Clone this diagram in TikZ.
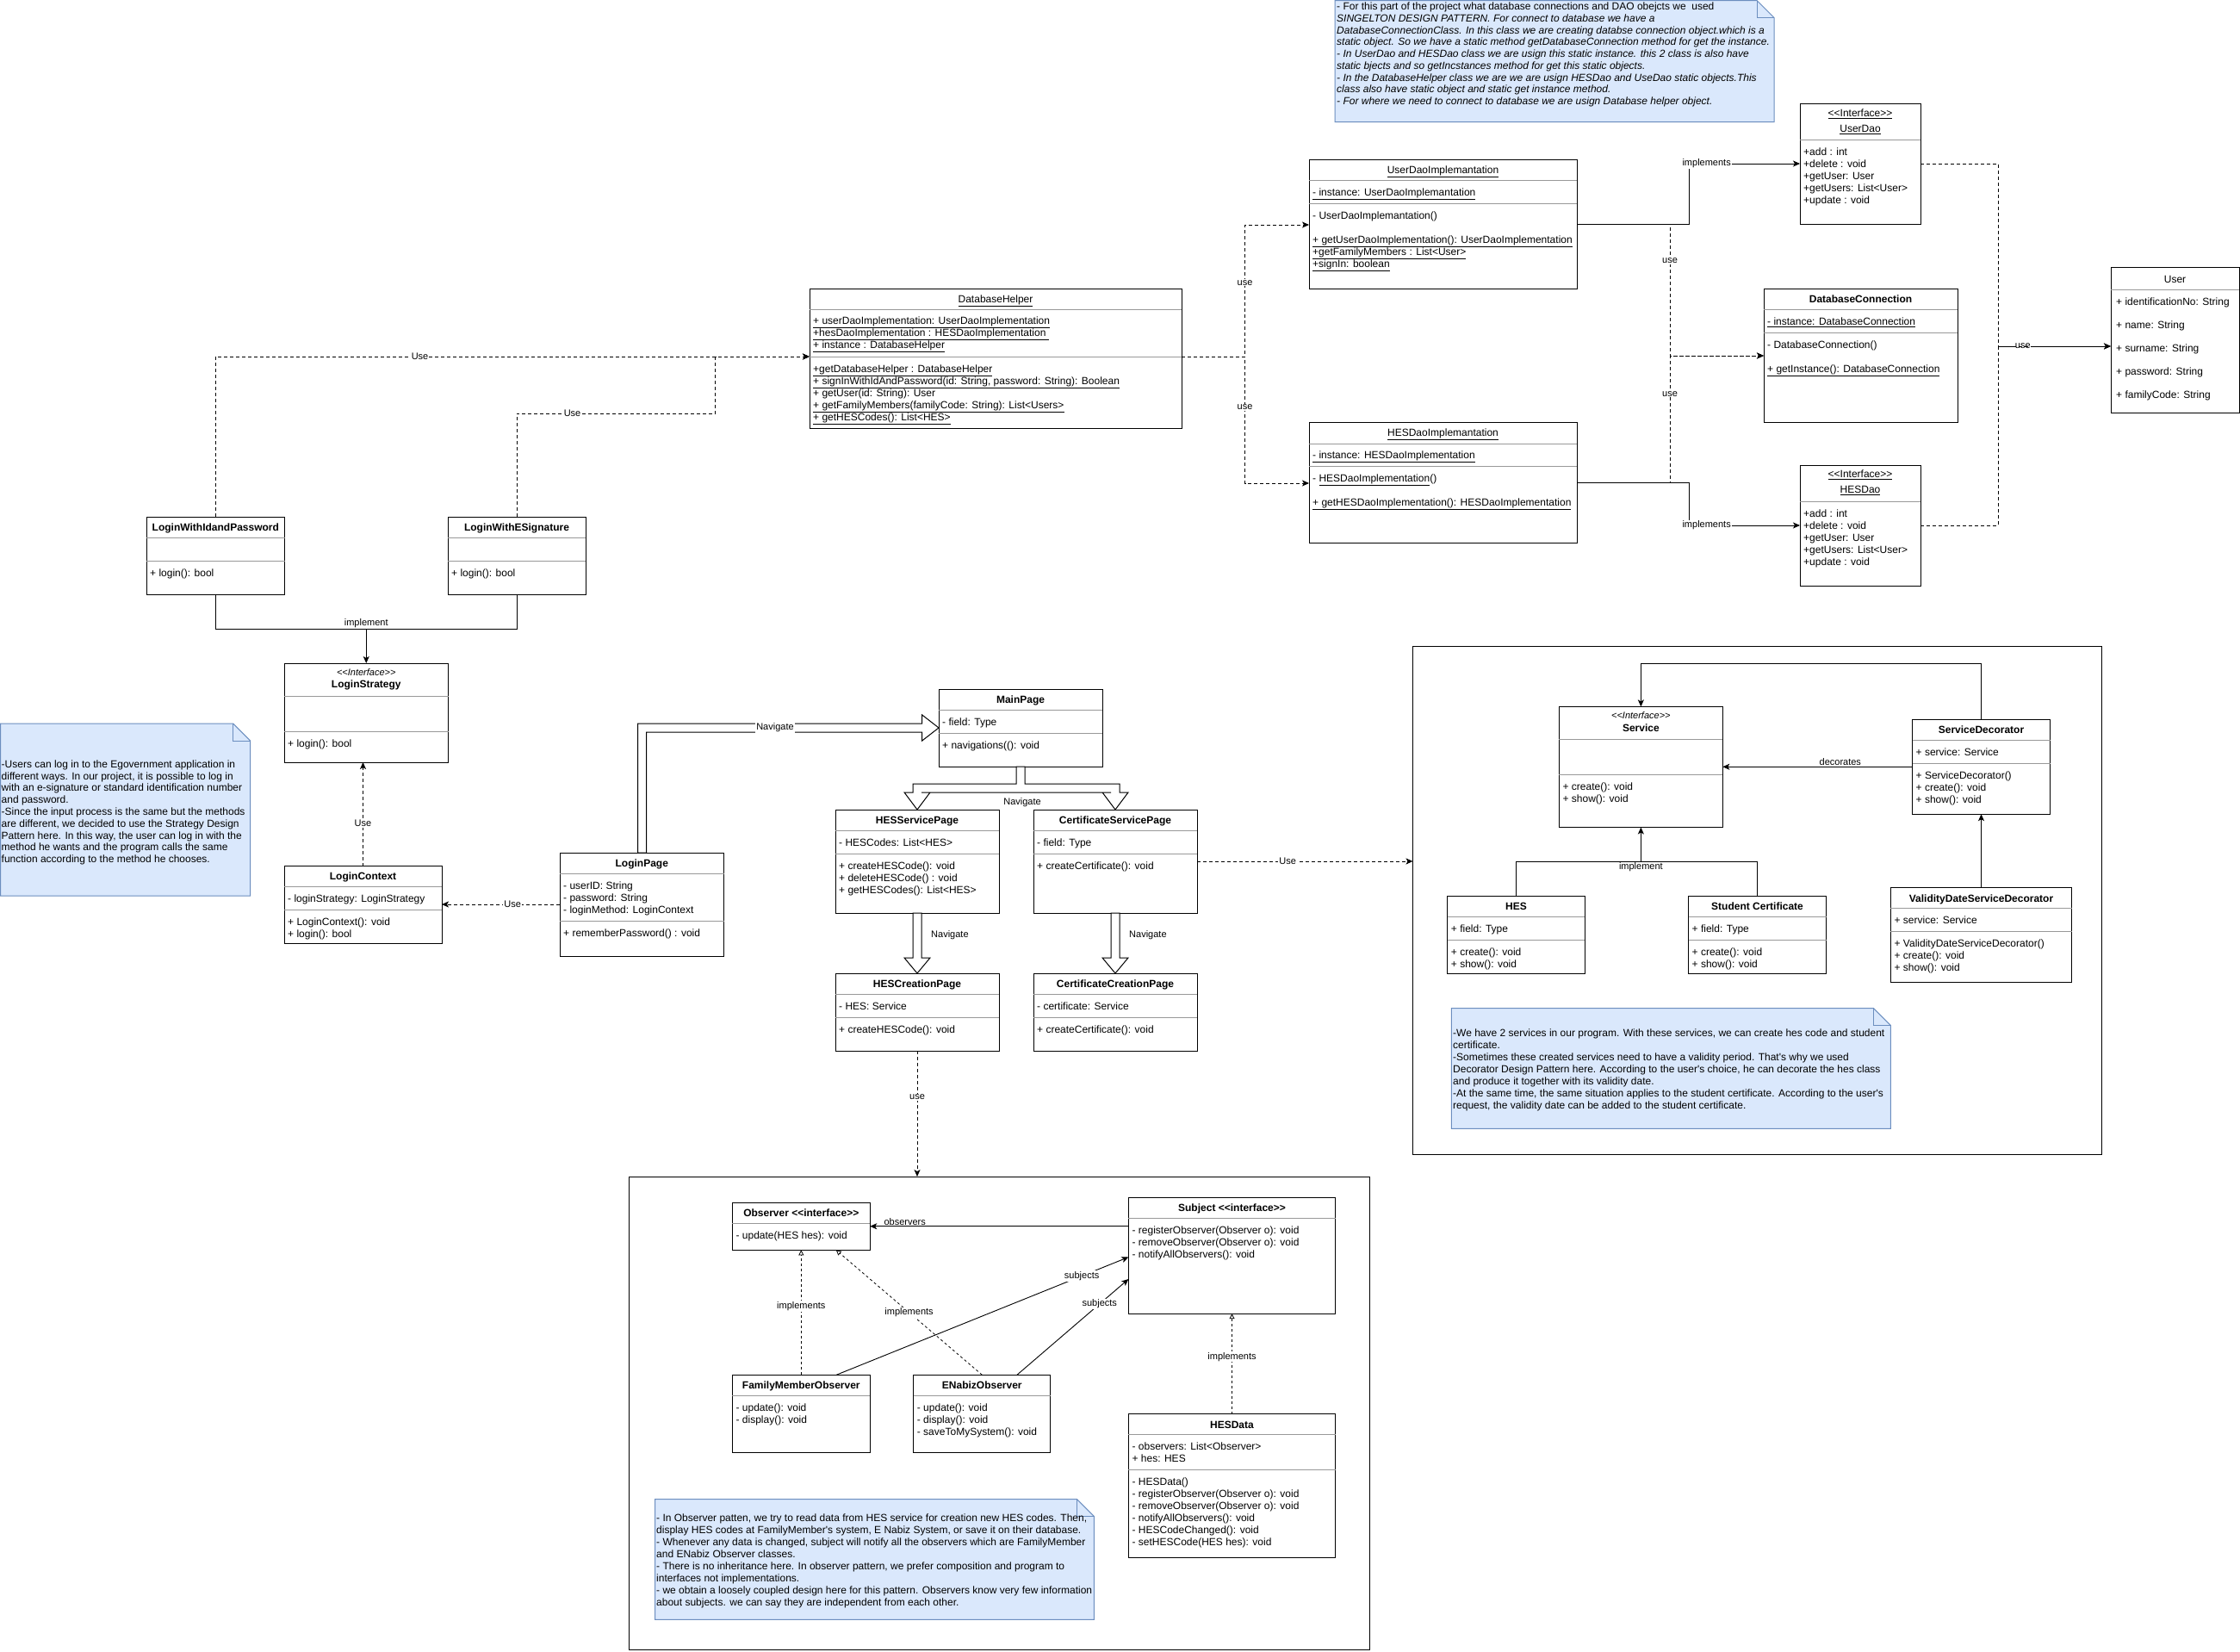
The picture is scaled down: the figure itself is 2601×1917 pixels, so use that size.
\documentclass[tikz,border=0pt]{standalone}
\usepackage{fontspec}
\setmainfont{Liberation Sans}[Ligatures=TeXOff]
\usetikzlibrary{arrows.meta,calc}
\definecolor{notefill}{HTML}{DAE8FC}
\definecolor{noteline}{HTML}{6C8EBF}

% horizontal compartment divider inside a class box
\newcommand\compsep[2]{\draw[sepline] ($(#1.north west)+(0,#2)$) -- ($(#1.north east)+(0,#2)$);}
% note shape with folded corner drawn around an empty node
\newcommand\umlnote[1]{%
  \draw[note] (#1.north west) -- ($(#1.north east)+(-20,0)$) -- ($(#1.north east)+(0,20)$) -- (#1.south east) -- (#1.south west) -- cycle;
  \draw[noteline, line width=1pt, line join=miter] ($(#1.north east)+(-20,0)$) -- ++(0,20) -- ($(#1.north east)+(0,20)$);}

\tikzset{
  box/.style={draw=black, line width=1pt, fill=white, anchor=north west, inner sep=0pt, outer sep=0pt},
  area/.style={draw=black, line width=1pt, anchor=north west, inner sep=0pt, outer sep=0pt},
  notearea/.style={anchor=north west, inner sep=0pt, outer sep=0pt},
  sepline/.style={draw=black!40, line width=0.9pt},
  txt/.style={anchor=north west, inner sep=0pt, align=left, font=\fontsize{12}{14}\selectfont, execute at begin node=\rule{0pt}{8.6pt}},
  ttl/.style={anchor=north, inner sep=0pt, align=center, font=\fontsize{12}{14}\selectfont, execute at begin node=\rule{0pt}{8.6pt}},
  notetxt/.style={anchor=north west, inner sep=0pt, align=left, execute at begin node=\rule{0pt}{8.6pt}},
  lbl/.style={font=\fontsize{11}{13}\selectfont, fill=white, inner sep=1pt},
  conn/.style={line width=0.9pt},
  dep/.style={line width=0.9pt, dash pattern=on 4pt off 3pt, -{Stealth[length=8pt,width=7pt,inset=2pt]}},
  assoc/.style={line width=0.9pt, -{Stealth[length=8pt,width=7pt,inset=2pt]}},
  real/.style={line width=0.8pt, dash pattern=on 3pt off 3pt, -{Triangle[open,length=6pt,width=6pt]}},
  flex/.style={draw=black, line width=1pt, fill=white, line join=miter},
  note/.style={draw=noteline, fill=notefill, line width=1pt, line join=miter},
}

\begin{document}
\begin{tikzpicture}[x=1pt,y=-1pt]
\useasboundingbox (0,0) rectangle (2601,1917);
\fill[white] (0,0) rectangle (2601,1917);

% ---------------- package frames ----------------
\node[area, minimum width=800.2, minimum height=589.6] (decf) at (1640.5,750.4) {};
\node[area, minimum width=860.1, minimum height=549] (obsf) at (730.5,1366) {};

% ---------------- notes ----------------
\node[notearea, minimum width=510, minimum height=141.2] (ntop) at (1550,0.5) {};
\umlnote{ntop}
\node[notetxt, font=\fontsize{12}{13.7}\selectfont] (ntop-t) at (1552,3.0) {%
- For this part of the project what database connections and DAO obejcts we\ \ used\\
\itshape SINGELTON DESIGN PATTERN. For connect to database we have a\\
\itshape DatabaseConnectionClass. In this class we are creating databse connection object.which is a\\
\itshape static object. So we have a static method getDatabaseConnection method for get the instance.\\
\itshape - In UserDao and HESDao class we are usign this static instance. this 2 class is also have\\
\itshape static bjects and so getIncstances method for get this static objects.\\
\itshape - In the DatabaseHelper class we are we are usign HESDao and UseDao static objects.This\\
\itshape class also have static object and static get instance method.\\
\itshape - For where we need to connect to database we are usign Database helper object.};

\node[notearea, minimum width=290.2, minimum height=200] (nleft) at (0.5,840) {};
\umlnote{nleft}
\node[notetxt, font=\fontsize{12}{13.8}\selectfont] (nleft-t) at (1.5,882.4) {%
-Users can log in to the Egovernment application in\\
different ways. In our project, it is possible to log in\\
with an e-signature or standard identification number\\
and password.\\
-Since the input process is the same but the methods\\
are different, we decided to use the Strategy Design\\
Pattern here. In this way, the user can log in with the\\
method he wants and the program calls the same\\
function according to the method he chooses.};

\node[notearea, minimum width=510, minimum height=139.7] (nsvc) at (1685.4,1170.6) {};
\umlnote{nsvc}
\node[notetxt, font=\fontsize{12}{13.9}\selectfont] (nsvc-t) at (1687,1195) {%
-We have 2 services in our program. With these services, we can create hes code and student\\
certificate.\\
-Sometimes these created services need to have a validity period. That's why we used\\
Decorator Design Pattern here. According to the user's choice, he can decorate the hes class\\
and produce it together with its validity date.\\
-At the same time, the same situation applies to the student certificate. According to the user's\\
request, the validity date can be added to the student certificate.};

\node[notearea, minimum width=509.9, minimum height=139.9] (nobs) at (760.5,1740.5) {};
\umlnote{nobs}
\node[notetxt, font=\fontsize{12}{13.95}\selectfont] (nobs-t) at (762,1757.8) {%
- In Observer patten, we try to read data from HES service for creation new HES codes. Then,\\
display HES codes at FamilyMember's system, E Nabiz System, or save it on their database.\\
- Whenever any data is changed, subject will notify all the observers which are FamilyMember\\
and ENabiz Observer classes.\\
- There is no inheritance here. In observer pattern, we prefer composition and program to\\
interfaces not implementations.\\
- we obtain a loosely coupled design here for this pattern. Observers know very few information\\
about subjects. we can say they are independent from each other.};

% ---------------- database layer ----------------
\node[box, minimum width=432, minimum height=162] (dh) at (940,335) {};
\compsep{dh}{24}\compsep{dh}{79}
\node[ttl] (dh-t) at (1156,342.7) {\underline{DatabaseHelper}};
\node[txt] (dh-a) at (944,367.7) {\underline{+ userDaoImplementation: UserDaoImplementation}\\
\underline{+hesDaoImplementation : HESDaoImplementation\ }\\
\underline{+ instance : DatabaseHelper}};
\node[txt] (dh-m) at (944,423.7) {\underline{+getDatabaseHelper : DatabaseHelper}\\
\underline{+ signInWithIdAndPassword(id: String, password: String): Boolean}\\
+ getUser(id: String): User\\
\underline{+ getFamilyMembers(familyCode: String): List<Users>}\\
\underline{+ getHESCodes(): List<HES>}};

\node[box, minimum width=311, minimum height=150] (udi) at (1520,185) {};
\compsep{udi}{24}\compsep{udi}{51}
\node[ttl] (udi-t) at (1675.5,192.5) {\underline{UserDaoImplemantation}};
\node[txt] (udi-a) at (1524,218.7) {\underline{- instance: UserDaoImplemantation}};
\node[txt] (udi-m) at (1524,245.7) {- UserDaoImplemantation()\\[14pt]
\underline{+ getUserDaoImplementation(): UserDaoImplementation}\\
\underline{+getFamilyMembers : List<User>}\\
\underline{+signIn: boolean}};

\node[box, minimum width=311, minimum height=140] (hdi) at (1520,490) {};
\compsep{hdi}{25}\compsep{hdi}{51}
\node[ttl] (hdi-t) at (1675.5,497.5) {\underline{HESDaoImplemantation}};
\node[txt] (hdi-a) at (1524,523.7) {\underline{- instance: HESDaoImplementation}};
\node[txt] (hdi-m) at (1524,550.7) {- \underline{HESDaoImplementation}()\\[14pt]
\underline{+ getHESDaoImplementation(): HESDaoImplementation}};

\node[box, minimum width=140, minimum height=140] (udao) at (2090,120) {};
\compsep{udao}{42}
\node[ttl] (udao-t) at (2160,126.7) {\underline{<<Interface>>}\\[4pt]\underline{UserDao}};
\node[txt] (udao-a) at (2094,171.2) {+add : int\\+delete : void\\+getUser: User\\+getUsers: List<User>\\+update : void};

\node[box, minimum width=140, minimum height=140] (hdao) at (2090,540) {};
\compsep{hdao}{42}
\node[ttl] (hdao-t) at (2160,545.7) {\underline{<<Interface>>}\\[4pt]\underline{HESDao}};
\node[txt] (hdao-a) at (2094,591.1) {+add : int\\+delete : void\\+getUser: User\\+getUsers: List<User>\\+update : void};

\node[box, minimum width=225, minimum height=155] (dbc) at (2048,335) {};
\compsep{dbc}{24}\compsep{dbc}{51}
\node[ttl] (dbc-t) at (2160.5,342.7) {\textbf{DatabaseConnection}};
\node[txt] (dbc-a) at (2052,368.7) {\underline{- instance: DatabaseConnection}};
\node[txt] (dbc-m) at (2052,395.7) {- DatabaseConnection()\\[14pt]\underline{+ getInstance(): DatabaseConnection}};

\node[box, minimum width=149, minimum height=169] (user) at (2451,310.5) {};
\compsep{user}{25.5}
\node[ttl] (user-t) at (2525.5,319.2) {User};
\node[txt] (user-a) at (2457,345.4) {+ identificationNo: String\\[13pt]+ name: String\\[13pt]+ surname: String\\[13pt]+ password: String\\[13pt]+ familyCode: String};

% ---------------- login (strategy) ----------------
\node[box, minimum width=160.6, minimum height=90] (lwip) at (170,600) {};
\compsep{lwip}{24}\compsep{lwip}{51}
\node[ttl] (lwip-t) at (250.3,607.7) {\textbf{LoginWithIdandPassword}};
\node[txt] (lwip-m) at (174,660.7) {+ login(): bool};

\node[box, minimum width=160, minimum height=90] (lwes) at (520,600) {};
\compsep{lwes}{24}\compsep{lwes}{51}
\node[ttl] (lwes-t) at (600,607.7) {\textbf{LoginWithESignature}};
\node[txt] (lwes-m) at (524,660.7) {+ login(): bool};

\node[box, minimum width=190.5, minimum height=115] (ls) at (330,770) {};
\compsep{ls}{38.7}\compsep{ls}{79}
\node[ttl] (ls-t) at (425.25,776.4) {{\fontsize{11}{13}\selectfont\textit{<<Interface>>}}\\[0pt]\textbf{LoginStrategy}};
\node[txt] (ls-m) at (334,858.4) {+ login(): bool};

\node[box, minimum width=183, minimum height=89.3] (lc) at (330,1005.7) {};
\compsep{lc}{23.3}\compsep{lc}{50.3}
\node[ttl] (lc-t) at (421.5,1012.8) {\textbf{LoginContext}};
\node[txt] (lc-a) at (334,1038.7) {- loginStrategy: LoginStrategy};
\node[txt] (lc-m) at (334,1065.7) {+ LoginContext(): void\\+ login(): bool};

\node[box, minimum width=190.5, minimum height=120] (lp) at (650,990) {};
\compsep{lp}{24}\compsep{lp}{79}
\node[ttl] (lp-t) at (745.25,997.7) {\textbf{LoginPage}};
\node[txt] (lp-a) at (654,1023.4) {- userID: String\\- password: String\\- loginMethod: LoginContext};
\node[txt] (lp-m) at (654,1078.4) {+ rememberPassword() : void};

% ---------------- pages ----------------
\node[box, minimum width=190, minimum height=90] (mp) at (1090,800) {};
\compsep{mp}{24}\compsep{mp}{51}
\node[ttl] (mp-t) at (1185,807.7) {\textbf{MainPage}};
\node[txt] (mp-a) at (1094,833.4) {- field: Type};
\node[txt] (mp-m) at (1094,860.4) {+ navigations((): void};

\node[box, minimum width=190, minimum height=120] (hsp) at (970,940) {};
\compsep{hsp}{24}\compsep{hsp}{51}
\node[ttl] (hsp-t) at (1065,947.7) {\textbf{HESServicePage}};
\node[txt] (hsp-a) at (974,973.4) {- HESCodes: List<HES>};
\node[txt] (hsp-m) at (974,1000.4) {+ createHESCode(): void\\+ deleteHESCode() : void\\+ getHESCodes(): List<HES>};

\node[box, minimum width=190, minimum height=120] (csp) at (1200,940) {};
\compsep{csp}{24}\compsep{csp}{51}
\node[ttl] (csp-t) at (1295,947.7) {\textbf{CertificateServicePage}};
\node[txt] (csp-a) at (1204,973.4) {- field: Type};
\node[txt] (csp-m) at (1204,1000.4) {+ createCertificate(): void};

\node[box, minimum width=190, minimum height=90] (hcp) at (970,1130) {};
\compsep{hcp}{24}\compsep{hcp}{51}
\node[ttl] (hcp-t) at (1065,1137.7) {\textbf{HESCreationPage}};
\node[txt] (hcp-a) at (974,1163.4) {- HES: Service};
\node[txt] (hcp-m) at (974,1190.4) {+ createHESCode(): void};

\node[box, minimum width=190, minimum height=90] (ccp) at (1200,1130) {};
\compsep{ccp}{24}\compsep{ccp}{51}
\node[ttl] (ccp-t) at (1295,1137.7) {\textbf{CertificateCreationPage}};
\node[txt] (ccp-a) at (1204,1163.4) {- certificate: Service};
\node[txt] (ccp-m) at (1204,1190.4) {+ createCertificate(): void};

% ---------------- services (decorator) ----------------
\node[box, minimum width=189.9, minimum height=140.1] (svc) at (1810.4,820.4) {};
\compsep{svc}{37.9}\compsep{svc}{79.2}
\node[ttl] (svc-t) at (1905.35,826.4) {{\fontsize{11}{13}\selectfont\textit{<<Interface>>}}\\[0.5pt]\textbf{Service}};
\node[txt, font=\fontsize{12}{14.6}\selectfont] (svc-m) at (1814.4,908.3) {+ create(): void\\+ show(): void};

\node[box, minimum width=160, minimum height=109.9] (sdec) at (2220.5,835.3) {};
\compsep{sdec}{23.7}\compsep{sdec}{50.9}
\node[ttl] (sdec-t) at (2300.5,842.8) {\textbf{ServiceDecorator}};
\node[txt] (sdec-a) at (2224.5,868.5) {+ service: Service};
\node[txt] (sdec-m) at (2224.5,895.7) {+ ServiceDecorator()\\+ create(): void\\+ show(): void};

\node[box, minimum width=159.6, minimum height=90] (hes) at (1680.7,1040.4) {};
\compsep{hes}{23.6}\compsep{hes}{51.3}
\node[ttl] (hes-t) at (1760.5,1047.9) {\textbf{HES}};
\node[txt] (hes-a) at (1684.7,1073.3) {+ field: Type};
\node[txt] (hes-m) at (1684.7,1100.4) {+ create(): void\\+ show(): void};

\node[box, minimum width=160.1, minimum height=90] (stc) at (1960.5,1040.4) {};
\compsep{stc}{23.6}\compsep{stc}{51.3}
\node[ttl] (stc-t) at (2040.55,1047.9) {\textbf{Student Certificate}};
\node[txt] (stc-a) at (1964.5,1073.3) {+ field: Type};
\node[txt] (stc-m) at (1964.5,1100.4) {+ create(): void\\+ show(): void};

\node[box, minimum width=210.2, minimum height=109.5] (vdsd) at (2195.4,1030.5) {};
\compsep{vdsd}{24.1}\compsep{vdsd}{51.3}
\node[ttl] (vdsd-t) at (2300.5,1038.2) {\textbf{ValidityDateServiceDecorator}};
\node[txt] (vdsd-a) at (2199.4,1063.3) {+ service: Service};
\node[txt] (vdsd-m) at (2199.4,1090.1) {+ ValidityDateServiceDecorator()\\+ create(): void\\+ show(): void};

% ---------------- observer ----------------
\node[box, minimum width=159.8, minimum height=55.1] (obs) at (850.4,1396.2) {};
\compsep{obs}{24.2}
\node[ttl] (obs-t) at (930.3,1404) {\textbf{Observer <<interface>>}};
\node[txt] (obs-m) at (854.4,1429.9) {- update(HES hes): void};

\node[box, minimum width=240.2, minimum height=135] (subj) at (1310.4,1390.2) {};
\compsep{subj}{24.2}
\node[ttl] (subj-t) at (1430.5,1398) {\textbf{Subject <<interface>>}};
\node[txt] (subj-m) at (1314.4,1423.2) {- registerObserver(Observer o): void\\- removeObserver(Observer o): void\\- notifyAllObservers(): void};

\node[box, minimum width=159.8, minimum height=89.9] (fmo) at (850.4,1596.2) {};
\compsep{fmo}{24.2}
\node[ttl] (fmo-t) at (930.3,1604) {\textbf{FamilyMemberObserver}};
\node[txt] (fmo-m) at (854.4,1629.6) {- update(): void\\- display(): void};

\node[box, minimum width=159.2, minimum height=89.9] (eno) at (1060.7,1596.2) {};
\compsep{eno}{24.2}
\node[ttl] (eno-t) at (1140.3,1604) {\textbf{ENabizObserver}};
\node[txt] (eno-m) at (1064.7,1629.6) {- update(): void\\- display(): void\\- saveToMySystem(): void};

\node[box, minimum width=240.2, minimum height=167] (hesd) at (1310.4,1641.7) {};
\compsep{hesd}{23.8}\compsep{hesd}{64.7}
\node[ttl] (hesd-t) at (1430.5,1649.3) {\textbf{HESData}};
\node[txt] (hesd-a) at (1314.4,1674.7) {- observers: List<Observer>\\+ hes: HES};
\node[txt] (hesd-m) at (1314.4,1715.6) {- HESData()\\- registerObserver(Observer o): void\\- removeObserver(Observer o): void\\- notifyAllObservers(): void\\- HESCodeChanged(): void\\- setHESCode(HES hes): void};

% ---------------- navigation arrows ----------------
\draw[flex] ($(lp.north west)+(90.6,0)$) |- ($(mp.west)+(-19.3,-5)$) -- ++(0,-10) -- (mp.west)
  -- ($(mp.west)+(-19.3,15)$) -- ++(0,-10) -| ($(lp.north west)+(100.6,0)$) -- cycle;
\node[lbl] (nav1) at ($(mp.west)+(-190,0)$) {Navigate};

\draw[flex] ($(mp.south)+(-5,0)$) -- ($(mp.south)+(5,0)$) -- ($(mp.south)+(5,20)$) -| ($(csp.north)+(5,-20)$)
  -- ++(10,0) -- (csp.north) -- ($(csp.north)+(-15,-20)$) -- ++(10,0) -- ($(hsp.north)+(5,-20)$)
  -- ++(10,0) -- (hsp.north) -- ($(hsp.north)+(-15,-20)$) -- ++(10,0) |- ($(mp.south)+(-5,20)$) -- cycle;
\node[lbl, fill=none] (nav2) at ($(mp.south)+(2,42)$) {Navigate};

\draw[flex] ($(hsp.south)+(-5,0)$) -- ($(hcp.north)+(-5,-18)$) -- ++(-10,0) -- (hcp.north)
  -- ($(hcp.north)+(15,-18)$) -- ++(-10,0) -- ($(hsp.south)+(5,0)$) -- cycle;
\node[lbl, fill=none, anchor=west] (nav3) at ($(hsp.south)+(15,26)$) {Navigate};

\draw[flex] ($(csp.south)+(-5,0)$) -- ($(ccp.north)+(-5,-18)$) -- ++(-10,0) -- (ccp.north)
  -- ($(ccp.north)+(15,-18)$) -- ++(-10,0) -- ($(csp.south)+(5,0)$) -- cycle;
\node[lbl, fill=none, anchor=west] (nav4) at ($(csp.south)+(15,26)$) {Navigate};

% ---------------- connector end points ----------------
\coordinate (dhin) at ($(dh.north west)+(0,79)$);
\coordinate (dhout) at ($(dh.north east)+(0,79)$);
\coordinate (udiin) at ($(udi.north west)+(0,76)$);
\coordinate (hdiin) at ($(hdi.north west)+(0,71)$);
\coordinate (udaoin) at ($(udao.north west)+(0,70)$);
\coordinate (hdaoin) at ($(hdao.north west)+(0,70)$);
\coordinate (dbcin) at ($(dbc.north west)+(0,78)$);
\coordinate (userin) at ($(user.north west)+(0,91.5)$);
\coordinate (impl) at ($(ls.north)+(0,-40)$);
\coordinate (svtop) at ($(svc.north)+(0,-50)$);
\coordinate (svbot) at ($(svc.south)+(0,40)$);

% ---------------- database connectors ----------------
\draw[dep] (dhout) -- ++(73.5,0) |- node[lbl,pos=0.28]{use} (udiin);
\draw[dep] (dhout) -- ++(73.5,0) |- node[lbl,pos=0.2]{use} (hdiin);
\draw[dep] (udi.east) -- ++(108,0) |- node[lbl,pos=0.14]{use} (dbcin);
\draw[dep] (hdi.east) -- ++(108,0) |- node[lbl,pos=0.35]{use} (dbcin);
\draw[assoc] (udi.east) -- ++(130,0) |- node[lbl,pos=0.58]{implements} (udaoin);
\draw[assoc] (hdi.east) -- ++(130,0) |- node[lbl,pos=0.58]{implements} (hdaoin);
\draw[dep] (udao.east) -- ++(90,0) |- node[lbl,pos=0.61]{use} (userin);
\draw[dep] (hdao.east) -- ++(90,0) |- (userin);

% ---------------- login connectors ----------------
\draw[dep] (lwip.north) |- node[lbl,pos=0.672]{Use} (dhin);
\draw[dep] (lwes.north) |- node[lbl,pos=0.64]{Use} ($(dhin)+(-109.4,66)$) |- (dhin);
\draw[conn] (lwes.south) |- (impl);
\draw[assoc] (lwip.south) |- (impl) -- (ls.north);
\node[lbl, fill=none, above] (impl-lbl) at (impl) {implement};
\draw[dep] (lc.north) -- node[lbl,pos=0.41]{Use} (lc.north |- ls.south);
\draw[dep] (lp.west) -- node[lbl,pos=0.4]{Use} (lp.west -| lc.east);

% ---------------- page connectors ----------------
\draw[dep] (csp.east) -- node[lbl,pos=0.42]{Use} (csp.east -| decf.west);
\draw[dep] (hcp.south) -- node[lbl,pos=0.37]{use} (hcp.south |- obsf.north);

% ---------------- decorator connectors ----------------
\draw[assoc] (sdec.north) |- (svtop) -- (svc.north);
\draw[assoc] (sdec.west) -- node[lbl, fill=none, above, pos=0.38]{decorates} (sdec.west -| svc.east);
\draw[conn] (stc.north) |- (svbot);
\draw[assoc] (hes.north) |- (svbot) -- (svc.south);
\node[lbl, fill=none, below] (impl2-lbl) at (svbot) {implement};
\draw[assoc] (vdsd.north) -- (sdec.south);

% ---------------- observer connectors ----------------
\draw[assoc] (subj.west |- obs.east) -- node[lbl, fill=none, above, pos=0.865]{observers} (obs.east);
\draw[assoc] ($(fmo.north)+(41,0)$) -- node[lbl,pos=0.84]{subjects} ($(subj.north west)+(0,69.3)$);
\draw[assoc] ($(eno.north)+(40.7,0)$) -- node[lbl,pos=0.74]{subjects} ($(subj.north west)+(0,94.8)$);
\draw[real] (fmo.north) -- node[lbl,pos=0.55]{implements} (obs.south);
\draw[real] (eno.north) -- node[lbl,pos=0.5]{implements} ($(obs.south)+(40.5,0)$);
\draw[real] (hesd.north) -- node[lbl,pos=0.57]{implements} (subj.south);
\end{tikzpicture}
\end{document}
